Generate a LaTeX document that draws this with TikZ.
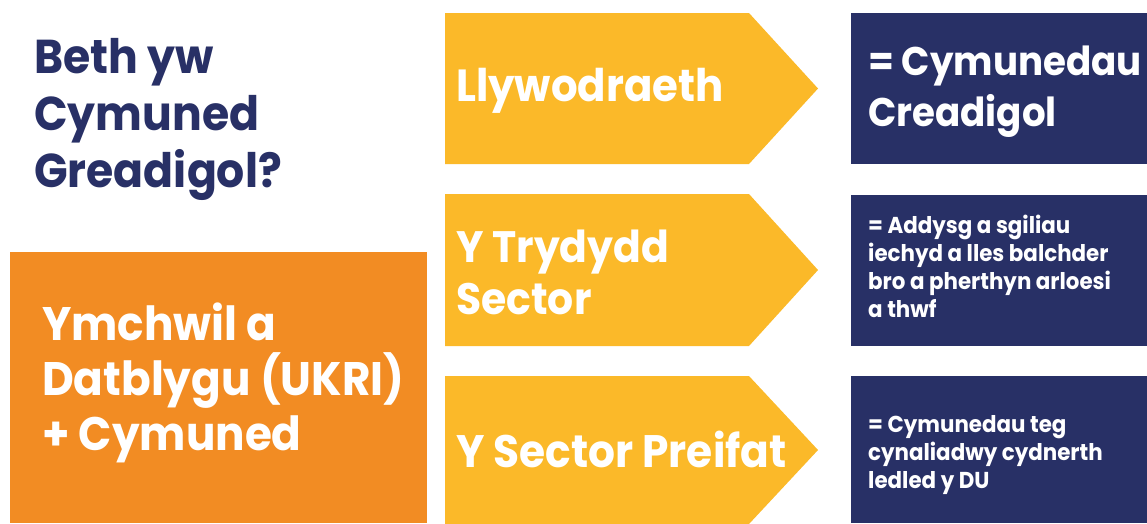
\documentclass[tikz,border=0pt]{standalone}
\usepackage{fontspec}
\setmainfont{Poppins}[FakeStretch=0.93]
\definecolor{navy}{RGB}{40,48,102}
\definecolor{gold}{RGB}{251,185,41}
\definecolor{orng}{RGB}{242,140,35}
\tikzset{
  lbl/.style={inner sep=0pt, anchor=base west, align=left, font=\bfseries},
  arrowbox/.style={fill=gold},
  darkbox/.style={fill=navy},
}
\begin{document}
\begin{tikzpicture}[x=1pt,y=-1pt]
\useasboundingbox (0,0) rectangle (1147,523);
% orange box
\fill[orng] (10,252) rectangle (427,523);
% yellow arrows
\fill[arrowbox] (445,13) -- (749,13) -- (818,88.5) -- (749,164) -- (445,164) -- cycle;
\fill[arrowbox] (445,194) -- (749,194) -- (818,270) -- (749,346) -- (445,346) -- cycle;
\fill[arrowbox] (445,376) -- (749,376) -- (818,450) -- (749,524) -- (445,524) -- cycle;
% dark boxes
\fill[darkbox] (851,13) rectangle (1147,164);
\fill[darkbox] (851,195) rectangle (1147,346);
\fill[darkbox] (851,376) rectangle (1147,523);
% texts (anchor = baseline of last line)
\node[lbl, text=navy, font=\bfseries\fontsize{47.5}{57}\selectfont] (title) at (34,187) {Beth yw\\Cymuned\\Greadigol?};
\node[lbl, text=white, font=\bfseries\fontsize{47}{55}\selectfont] (ukri) at (42,450) {Ymchwil a\\Datblygu (UKRI)\\+ Cymuned};
\node[lbl, text=white, font=\bfseries\fontsize{45}{52}\selectfont] (gov) at (456,101) {Llywodraeth};
\node[lbl, text=white, font=\bfseries\fontsize{44}{52}\selectfont] (third) at (456,314) {Y Trydydd\\Sector};
\node[lbl, text=white, font=\bfseries\fontsize{45.5}{52}\selectfont] (priv) at (456,467) {Y Sector Preifat};
\node[lbl, text=white, font=\bfseries\fontsize{40}{51}\selectfont] (res1) at (868,126) {= Cymunedau\\Creadigol};
\node[lbl, text=white, font=\bfseries\fontsize{23}{28}\selectfont] (res2) at (868,317) {= Addysg a sgiliau\\iechyd a lles balchder\\bro a pherthyn arloesi\\a thwf};
\node[lbl, text=white, font=\bfseries\fontsize{23}{28}\selectfont] (res3) at (868,488) {= Cymunedau teg\\cynaliadwy cydnerth\\ledled y DU};
\end{tikzpicture}
\end{document}
